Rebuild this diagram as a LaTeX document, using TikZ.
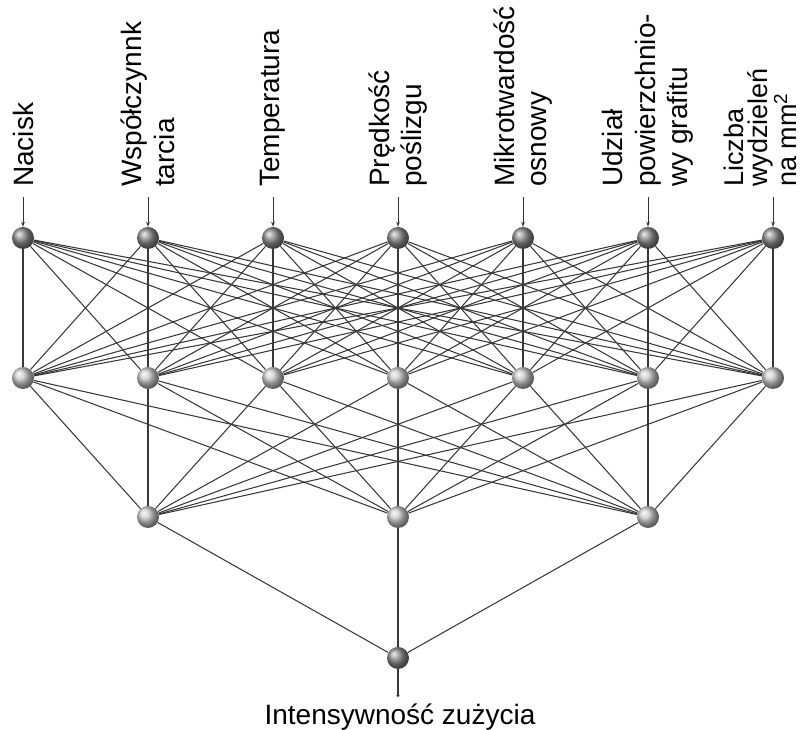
\documentclass[tikz,border=0pt]{standalone}
\usepackage{fontspec}
\setmainfont{Liberation Sans}
\usetikzlibrary{arrows.meta}
\tikzset{
  neuron/.style={circle, inner sep=0pt, minimum size=22pt},
  dark neuron/.style={neuron, shading=ball, ball color=gray!90},
  light neuron/.style={neuron, shading=ball, ball color=gray!40},
  link/.style={line width=1.05pt, black!78},
  feed/.style={-{Stealth[length=5pt,width=3.5pt]}, line width=0.9pt, black!80},
  caption/.style={rotate=90, anchor=west, align=left, inner sep=0pt,
    font=\fontsize{28}{32.5}\selectfont},
  loose/.style={},
  tight/.style={font=\fontsize{27}{24}\selectfont},
}

\begin{document}
\begin{tikzpicture}[x=1pt,y=1pt]
  \useasboundingbox (0,0) rectangle (807,730);

  % Input layer with captions
  \foreach \x/\cx/\sty/\n/\txt in {23/23/loose/1/Nacisk,
      148/148/loose/2/{Współczynnk\\tarcia},
      273/273/loose/3/Temperatura,
      398/398/loose/4/{Prędkość\\poślizgu},
      523/523/loose/5/{Mikrotwardość\\osnowy},
      648/648/loose/6/{Udział\\powierzchnio-\\wy grafitu},
      773/760/tight/7/{Liczba\\wydzieleń\\na mm\textsuperscript{2}}} {
    \node[dark neuron] (in\n) at (\x,492) {};
    \node[caption, \sty] (cap\n) at (\cx,543) {\txt};
    \coordinate (src\n) at (\x,533);
    \draw[feed] (src\n) -- (in\n);
  }

  % Hidden layers
  \foreach \x [count=\n] in {23,148,273,398,523,648,773}
    \node[light neuron] (h\n) at (\x,352) {};
  \foreach \x [count=\n] in {148,398,648}
    \node[light neuron] (g\n) at (\x,213) {};

  % Output
  \node[dark neuron] (out) at (398,72) {};
  \coordinate (sink) at (398,33);
  \draw[link, -{Circle[length=3pt]}] (out) -- (sink);
  \node[font=\fontsize{28}{32}\selectfont] (target) at (400,13) {Intensywność zużycia};

  % Connections
  \foreach \i in {1,...,7} {
    \foreach \j in {1,...,7}
      \draw[link] (in\i) -- (h\j);
    \foreach \k in {1,2,3}
      \draw[link] (h\i) -- (g\k);
  }
  \foreach \k in {1,2,3}
    \draw[link] (g\k) -- (out);
\end{tikzpicture}
\end{document}
